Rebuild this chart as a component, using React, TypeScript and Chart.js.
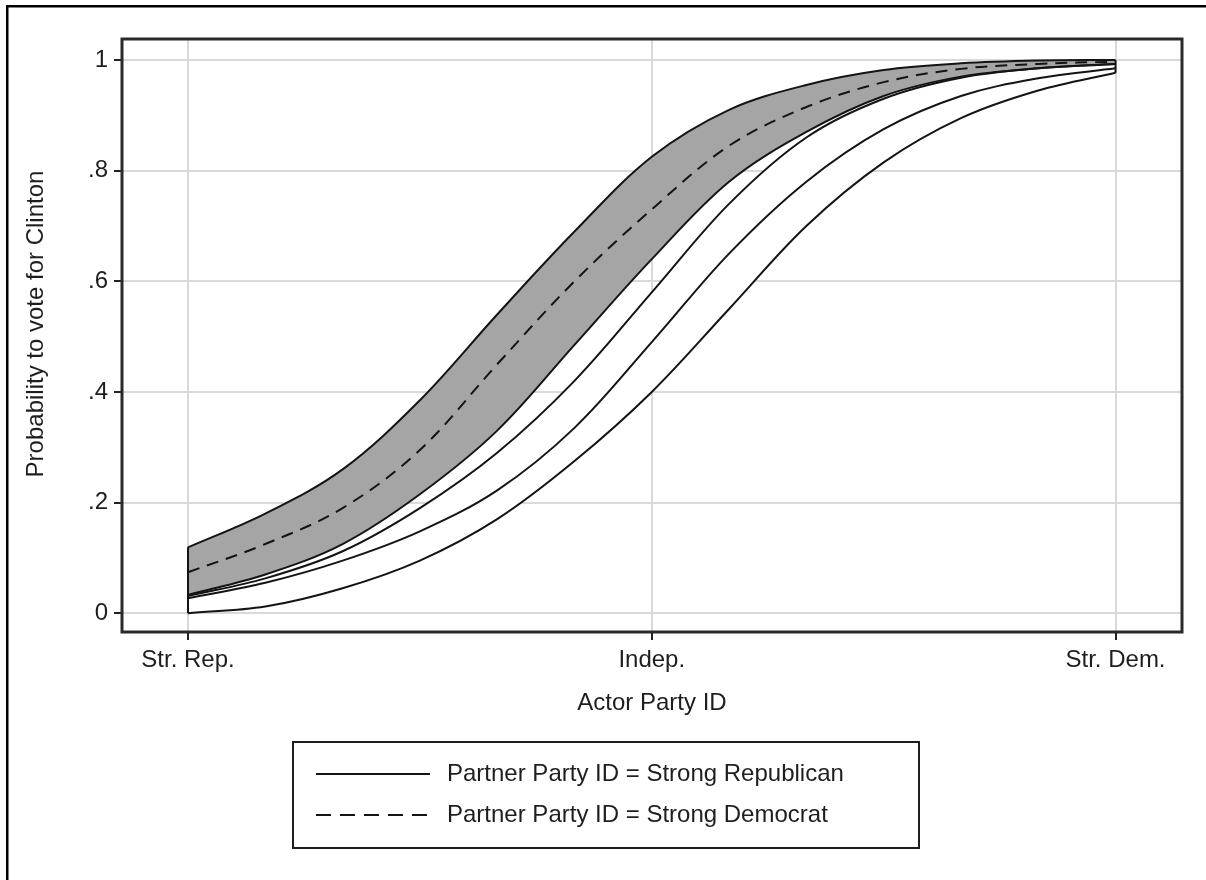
import React, { useEffect, useRef } from "react";
import { Chart, registerables } from "chart.js";

Chart.register(...registerables);

// Actor party ID positions (1 = Str. Rep., 4 = Indep., 7 = Str. Dem.)
const xValues = [1, 1.5, 2, 2.5, 3, 3.5, 4, 4.5, 5, 5.5, 6, 6.5, 7];
// Partner = Strong Democrat (dashed) with 95% CI (grey band)
const demUpper = [0.119, 0.18, 0.26, 0.385, 0.54, 0.69, 0.825, 0.91, 0.955, 0.982, 0.994, 0.999, 1.0];
const demMean = [0.074, 0.125, 0.19, 0.295, 0.45, 0.6, 0.73, 0.845, 0.915, 0.96, 0.984, 0.993, 0.997];
const demLower = [0.033, 0.07, 0.125, 0.215, 0.33, 0.485, 0.64, 0.78, 0.87, 0.935, 0.97, 0.985, 0.993];
// Partner = Strong Republican (solid) with 95% CI (white band)
const repUpper = [0.031, 0.063, 0.112, 0.19, 0.29, 0.42, 0.58, 0.74, 0.86, 0.93, 0.968, 0.985, 0.993];
const repMean = [0.027, 0.055, 0.095, 0.148, 0.222, 0.335, 0.49, 0.65, 0.78, 0.875, 0.935, 0.967, 0.985];
const repLower = [0.0, 0.012, 0.045, 0.095, 0.17, 0.275, 0.4, 0.55, 0.7, 0.815, 0.895, 0.945, 0.977];

const xTickValues = [1, 4, 7];
const xTickLabels = ["Str. Rep.", "Indep.", "Str. Dem."];
const yTickValues = [0, 0.2, 0.4, 0.6, 0.8, 1];
const yTickLabels = ["0", ".2", ".4", ".6", ".8", "1"];

const xTitle = "Actor Party ID";
const yTitle = "Probability to vote for Clinton";
const legendLabels = [
  "Partner Party ID = Strong Republican",
  "Partner Party ID = Strong Democrat",
];

const FONT = '"Liberation Sans", Arial, sans-serif';
const LINE = "#141414";
const GREY = "#a5a5a5";
const GRID = "#d9d9d9";
const DASH = [12, 8];

const toPts = (ys: number[]) => xValues.map((x, i) => ({ x, y: ys[i] }));
const last = xValues.length - 1;

const decorPlugin = {
  id: "decor",
  beforeDraw(chart: any) {
    const ctx = chart.ctx;
    ctx.save();
    ctx.fillStyle = "#ffffff";
    ctx.fillRect(0, 0, chart.width, chart.height);
    ctx.restore();
  },
  afterDraw(chart: any) {
    const ctx = chart.ctx;
    const a = chart.chartArea;
    ctx.save();
    // plot region frame
    ctx.strokeStyle = "#2a2a2a";
    ctx.lineWidth = 3;
    ctx.strokeRect(a.left, a.top, a.right - a.left, a.bottom - a.top);
    // outer graph frame (top + left visible)
    ctx.fillStyle = "#000";
    ctx.fillRect(6, 5, chart.width - 6, 2.5);
    ctx.fillRect(6, 5, 2.5, chart.height - 5);

    // axis titles
    ctx.fillStyle = "#1e1e1e";
    ctx.font = `24px ${FONT}`;
    ctx.textAlign = "center";
    ctx.textBaseline = "middle";
    ctx.fillText(xTitle, (a.left + a.right) / 2, 703);
    ctx.save();
    ctx.translate(36, 324);
    ctx.rotate(-Math.PI / 2);
    ctx.fillText(yTitle, 0, 0);
    ctx.restore();

    // legend
    const bx = 293, by = 742, bw = 626, bh = 106;
    ctx.strokeStyle = "#1e1e1e";
    ctx.lineWidth = 2;
    ctx.strokeRect(bx, by, bw, bh);
    const rows = [774, 815];
    rows.forEach((yy, i) => {
      ctx.beginPath();
      ctx.strokeStyle = LINE;
      ctx.lineWidth = 2;
      ctx.setLineDash(i === 0 ? [] : [15, 9]);
      ctx.moveTo(316, yy);
      ctx.lineTo(430, yy);
      ctx.stroke();
      ctx.setLineDash([]);
      ctx.textAlign = "left";
      ctx.fillText(legendLabels[i], 447, yy);
    });
    ctx.restore();
  },
};

const lineDs = (data: any[], extra: any = {}) => ({
  data,
  borderColor: LINE,
  borderWidth: 2,
  pointRadius: 0,
  fill: false,
  tension: 0.35,
  ...extra,
});

export default function App() {
  const ref = useRef<HTMLCanvasElement | null>(null);
  useEffect(() => {
    if (!ref.current) return;
    const chart = new Chart(ref.current, {
      type: "line",
      data: {
        datasets: [
          lineDs(toPts(demUpper), { fill: { target: 2 }, backgroundColor: GREY }),
          lineDs(toPts(demMean), { borderDash: DASH }),
          lineDs(toPts(demLower)),
          lineDs(toPts(repUpper), { fill: { target: 5 }, backgroundColor: "#ffffff" }),
          lineDs(toPts(repMean)),
          lineDs(toPts(repLower)),
          // band end edges
          lineDs([
            { x: xValues[0], y: demUpper[0] },
            { x: xValues[0], y: repLower[0] },
          ], { tension: 0 }),
          lineDs([
            { x: xValues[last], y: demUpper[last] },
            { x: xValues[last], y: repLower[last] },
          ], { tension: 0 }),
        ] as any,
      },
      options: {
        animation: false,
        responsive: false,
        maintainAspectRatio: false,
        layout: { padding: { top: 39, right: 24, left: 0, bottom: 0 } },
        plugins: {
          legend: { display: false },
          tooltip: { enabled: false },
          filler: { drawTime: "beforeDatasetsDraw", propagate: false },
        },
        scales: {
          x: {
            type: "linear",
            min: 0.573,
            max: 7.43,
            border: { display: false },
            grid: { color: GRID, lineWidth: 2, tickColor: "#222", tickLength: 8, tickWidth: 2 },
            afterBuildTicks: (s: any) => {
              s.ticks = xTickValues.map((v) => ({ value: v }));
            },
            afterFit: (s: any) => {
              s.height = 248;
              s.paddingLeft = 0;
              s.paddingRight = 0;
            },
            ticks: {
              autoSkip: false,
              maxRotation: 0,
              padding: 6,
              color: "#1e1e1e",
              font: { family: FONT, size: 24 },
              callback: (_v: any, i: number) => xTickLabels[i],
            },
          },
          y: {
            type: "linear",
            min: -0.034,
            max: 1.038,
            border: { display: false },
            grid: { color: GRID, lineWidth: 2, tickColor: "#222", tickLength: 8, tickWidth: 2 },
            afterBuildTicks: (s: any) => {
              s.ticks = yTickValues.map((v) => ({ value: v }));
            },
            afterFit: (s: any) => {
              s.width = 122;
              s.paddingTop = 0;
              s.paddingBottom = 0;
            },
            ticks: {
              padding: 6,
              color: "#1e1e1e",
              font: { family: FONT, size: 24 },
              callback: (_v: any, i: number) => yTickLabels[i],
            },
          },
        },
      } as any,
      plugins: [decorPlugin],
    });
    return () => chart.destroy();
  }, []);

  return (
    <div style={{ position: "fixed", left: 0, top: 0, width: 1206, height: 880, background: "#fff" }}>
      <canvas ref={ref} width={1206} height={880} style={{ display: "block", width: 1206, height: 880 }} />
    </div>
  );
}
